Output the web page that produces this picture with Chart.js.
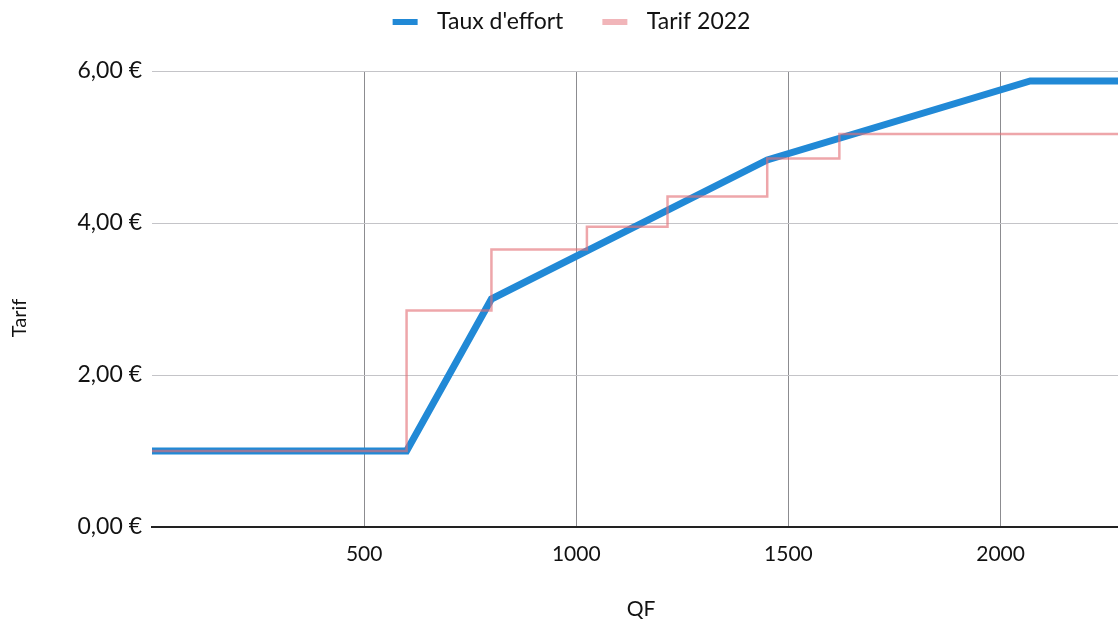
<!DOCTYPE html>
<html>
<head>
<meta charset="utf-8">
<script src="https://cdn.jsdelivr.net/npm/chart.js@4.4.1/dist/chart.umd.min.js"></script>
<style>
  html, body { margin: 0; padding: 0; background: #ffffff; overflow: hidden; }
  #wrap { width: 1130px; height: 622px; }
</style>
</head>
<body>
<div id="wrap"><canvas id="chart" width="1130" height="622"></canvas></div>
<script>
// Series names
const seriesNames = ["Taux d'effort", "Tarif 2022"];

// "Taux d'effort": tariff computed from the QF (break points)
const effortQF    = [0, 600, 800, 1450, 2070, 2305];
const effortTarif = [1.00, 1.00, 3.00, 4.83, 5.87, 5.87];

// "Tarif 2022": flat tariff per QF bracket (value applies from each threshold on)
const tarifQF     = [0, 600, 800, 1025, 1215, 1450, 1620, 2305];
const tarifValues = [1.00, 2.85, 3.65, 3.95, 4.35, 4.85, 5.17, 5.17];

// Axis ticks and labels
const xTicks = [500, 1000, 1500, 2000];
const yTicks = [0, 2, 4, 6];
const yTickLabels = ['0,00 €', '2,00 €', '4,00 €', '6,00 €'];
const xTitle = 'QF';
const yTitle = 'Tarif';

const BLUE = '#2189d6';
const PINK_LINE = 'rgba(228, 112, 118, 0.62)';
const PINK_BOX = '#f1b5b9';
const TEXT = '#121212';
const FONT = 'Lato';

// Small swatch used as legend marker: transparent margin on the left, coloured bar after it
function swatch(color) {
  const c = document.createElement('canvas');
  c.width = 62; c.height = 6;
  const g = c.getContext('2d');
  g.fillStyle = color;
  g.fillRect(29, 0, 25, 6);
  return c;
}
const legendMarks = [swatch(BLUE), swatch(PINK_BOX)];

// Extra room between the legend and the plot, and a slight left shift of the legend row
const legendTweaks = {
  id: 'legendTweaks',
  beforeInit(chart) {
    const legend = chart.legend;
    const fit = legend.fit;
    legend.fit = function () {
      fit.bind(legend)();
      this.height += 28;
    };
    const draw = legend.draw;
    legend.draw = function () {
      const ctx = chart.ctx;
      ctx.save();
      ctx.translate(-8, 0);
      draw.bind(legend)();
      ctx.restore();
    };
  }
};

// Vertical axis title, drawn rotated to the left of the tick labels
const yAxisTitle = {
  id: 'yAxisTitle',
  afterDraw(chart) {
    const ctx = chart.ctx;
    ctx.save();
    ctx.translate(20, 318);
    ctx.rotate(-Math.PI / 2);
    ctx.fillStyle = TEXT;
    ctx.font = '20px ' + FONT;
    ctx.textAlign = 'center';
    ctx.textBaseline = 'middle';
    ctx.fillText(yTitle, 0, 0);
    ctx.restore();
  }
};

const toPoints = (xs, ys) => xs.map((x, i) => ({ x, y: ys[i] }));

new Chart(document.getElementById('chart'), {
  type: 'line',
  data: {
    datasets: [
      {
        label: seriesNames[0],
        data: toPoints(effortQF, effortTarif),
        borderColor: BLUE,
        backgroundColor: BLUE,
        borderWidth: 7,
        pointRadius: 0,
        tension: 0,
        order: 1
      },
      {
        label: seriesNames[1],
        data: toPoints(tarifQF, tarifValues),
        borderColor: PINK_LINE,
        backgroundColor: PINK_BOX,
        borderWidth: 2.5,
        pointRadius: 0,
        stepped: 'before',
        order: 0
      }
    ]
  },
  options: {
    responsive: false,
    animation: false,
    devicePixelRatio: 1,
    layout: { padding: { top: 0, right: 0, bottom: 0, left: 0 } },
    plugins: {
      tooltip: { enabled: false },
      legend: {
        position: 'top',
        labels: {
          color: TEXT,
          font: { family: FONT, size: 23 },
          usePointStyle: true,
          pointStyleWidth: 62,
          boxHeight: 6,
          padding: 10,
          sort: (a, b) => a.datasetIndex - b.datasetIndex,
          generateLabels(chart) {
            return chart.data.datasets.map((ds, i) => ({
              text: ds.label,
              datasetIndex: i,
              pointStyle: legendMarks[i],
              fillStyle: 'rgba(0,0,0,0)',
              strokeStyle: 'rgba(0,0,0,0)',
              lineWidth: 0,
              fontColor: TEXT,
              hidden: false
            }));
          }
        }
      }
    },
    scales: {
      x: {
        type: 'linear',
        min: 0,
        max: 2305,
        afterBuildTicks(axis) {
          axis.ticks = xTicks.map(v => ({ value: v }));
        },
        afterFit(axis) { axis.height = 95; },
        ticks: {
          color: TEXT,
          font: { family: FONT, size: 21 },
          padding: 15,
          maxRotation: 0,
          callback: v => String(v)
        },
        grid: { color: '#8c8c90', lineWidth: 1, drawTicks: false },
        border: { display: true, color: '#222222', width: 2 },
        title: {
          display: true,
          text: xTitle,
          color: TEXT,
          font: { family: FONT, size: 21 },
          padding: { top: 0, bottom: 0 }
        }
      },
      y: {
        type: 'linear',
        min: 0,
        max: 6,
        afterBuildTicks(axis) {
          axis.ticks = yTicks.map(v => ({ value: v }));
        },
        afterFit(axis) { axis.width = 152; },
        ticks: {
          color: TEXT,
          font: { family: FONT, size: 23 },
          padding: 10,
          callback: v => yTickLabels[yTicks.indexOf(v)]
        },
        grid: {
          color: ctx => (ctx.tick && ctx.tick.value === 0) ? 'rgba(0,0,0,0)' : '#c4c4c8',
          lineWidth: 1,
          drawTicks: false
        },
        border: { display: false },
        title: { display: false }
      }
    }
  },
  plugins: [legendTweaks, yAxisTitle]
});
</script>
</body>
</html>
